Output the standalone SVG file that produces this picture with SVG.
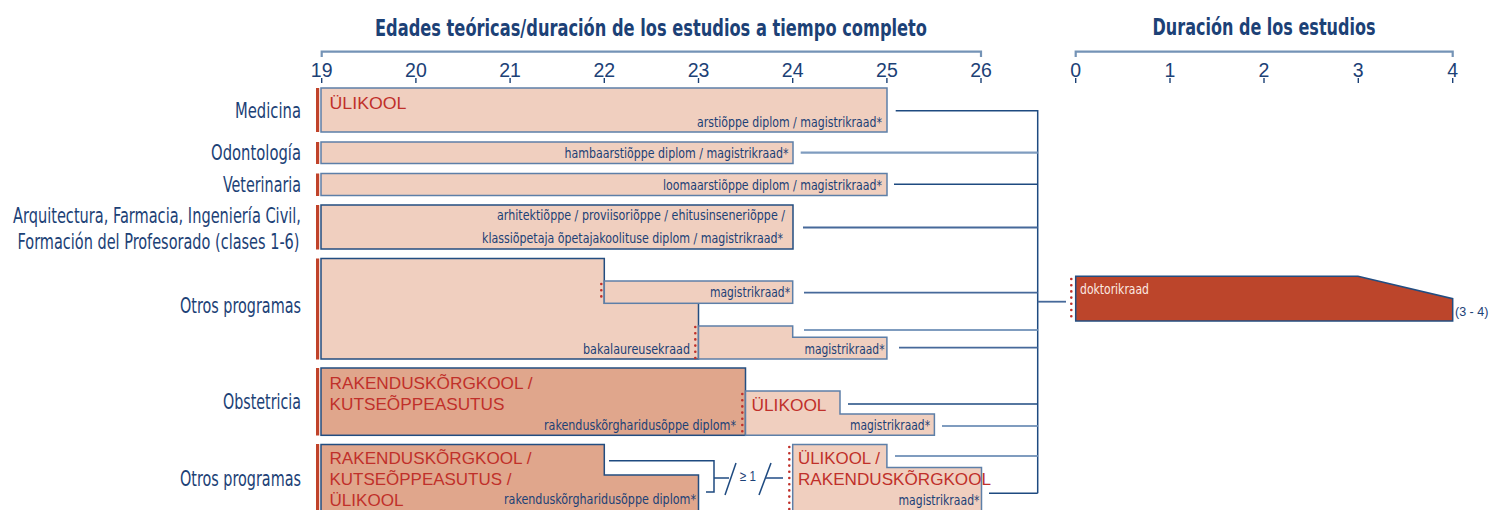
<svg xmlns="http://www.w3.org/2000/svg" width="1490" height="510" viewBox="0 0 1490 510">
<style>
.title{font-family:"Liberation Sans Narrow","DejaVu Sans Condensed","DejaVu Sans",sans-serif;font-stretch:condensed;font-weight:bold;font-size:23px;fill:#1c4176}
.lab{font-family:"Liberation Sans Narrow","DejaVu Sans Condensed","DejaVu Sans",sans-serif;font-stretch:condensed;font-size:21px;fill:#1c4176;text-anchor:end}
.num{font-family:"Liberation Sans",Arial,sans-serif;font-size:19.5px;fill:#1c4176;text-anchor:middle}
.sm{font-family:"Liberation Sans Narrow","DejaVu Sans Condensed","Liberation Sans",sans-serif;font-stretch:condensed;font-size:14.5px;fill:#1c4176;text-anchor:end}
.red{font-family:"Liberation Sans",Arial,sans-serif;font-size:16.5px;fill:#c0302a}
.axis{stroke:#7493b6;stroke-width:2.2;fill:none}
.tick{stroke:#1c4176;stroke-width:1.4}
.bar{fill:#c0432a}
.lt{fill:#f0cfbf;stroke:#5d7fa8;stroke-width:1.5}
.ltd{fill:#f0cfbf;stroke:#234d80;stroke-width:1.5}
.dk{fill:#e0a68c;stroke:#234d80;stroke-width:1.5}
.c1{stroke:#1e4a80;stroke-width:1.5;fill:none}
.c2{stroke:#7f9cbf;stroke-width:2.2;fill:none}
.c3{stroke:#46699a;stroke-width:1.8;fill:none}
.dots{stroke:#c0302a;stroke-width:2.6;stroke-linecap:round;stroke-dasharray:0 6.2;fill:none}
</style>

<g id="titles">
<text class="title" x="651" y="36" text-anchor="middle" textLength="552" lengthAdjust="spacingAndGlyphs">Edades teóricas/duración de los estudios a tiempo completo</text>
<text class="title" x="1264" y="35" text-anchor="middle" textLength="223" lengthAdjust="spacingAndGlyphs">Duración de los estudios</text>
</g>

<g id="axis-ages">
<path class="axis" d="M321.7,57 V51.7 H981 V57"/>
<text class="num" x="321.7" y="77">19</text>
<text class="num" x="415.9" y="77">20</text>
<text class="num" x="510.1" y="77">21</text>
<text class="num" x="604.3" y="77">22</text>
<text class="num" x="698.5" y="77">23</text>
<text class="num" x="792.7" y="77">24</text>
<text class="num" x="886.9" y="77">25</text>
<text class="num" x="981" y="77">26</text>
<path class="tick" d="M321.7,78V83M415.9,78V83M510.1,78V83M604.3,78V83M698.5,78V83M792.7,78V83M886.9,78V83M981,78V83"/>
</g>

<g id="axis-duration">
<path class="axis" d="M1075.7,57 V51.7 H1452.7 V57"/>
<text class="num" x="1075.7" y="77">0</text>
<text class="num" x="1170" y="77">1</text>
<text class="num" x="1264" y="77">2</text>
<text class="num" x="1358.3" y="77">3</text>
<text class="num" x="1452.7" y="77">4</text>
<path class="tick" d="M1075.7,78V83M1170,78V83M1264,78V83M1358.3,78V83M1452.7,78V83"/>
</g>

<g id="connectors">
<path class="c1" d="M895.7,110.7 H1037.7 V493.3"/>
<path class="c2" d="M800.7,152.7 H1037.7"/>
<path class="c1" d="M894,184.3 H1037.7"/>
<path class="c3" d="M803,227.5 H1037.7"/>
<path class="c3" d="M804,292.7 H1037.7"/>
<path class="c2" d="M804,330 H1037.7"/>
<path class="c3" d="M899,347.7 H1037.7"/>
<path class="c1" d="M848,404 H1037.7"/>
<path class="c2" d="M942,426 H1037.7"/>
<path class="c2" d="M895,456 H1037.7"/>
<path class="c1" d="M989,493.3 H1037.7"/>
<path class="c3" d="M1037.7,301.7 H1066"/>
<path class="c1" d="M609,460.7 H714 V492 H706"/>
<path class="c1" d="M714,478 H729"/>
<path class="c1" d="M725,495 L736,463"/>
<path class="c1" d="M759,495 L771,463"/>
<path class="c3" d="M766,478 H783"/>
<text x="740" y="481" font-family="Liberation Sans,Arial,sans-serif" font-size="14.5" fill="#1c4176" textLength="16" lengthAdjust="spacingAndGlyphs">≥ 1</text>
</g>

<g id="medicina">
<rect class="bar" x="316" y="88" width="3.2" height="44"/>
<rect class="lt" x="321" y="88" width="566" height="44"/>
<text class="lab" x="301" y="118" textLength="66" lengthAdjust="spacingAndGlyphs">Medicina</text>
<text class="red" x="329.5" y="109" textLength="77" lengthAdjust="spacingAndGlyphs">ÜLIKOOL</text>
<text class="sm" x="882" y="127" textLength="185" lengthAdjust="spacingAndGlyphs">arstiõppe diplom / magistrikraad*</text>
</g>

<g id="odontologia">
<rect class="bar" x="316" y="142" width="3.2" height="22"/>
<rect class="lt" x="321" y="142" width="472" height="21.5"/>
<text class="lab" x="301" y="160" textLength="90" lengthAdjust="spacingAndGlyphs">Odontología</text>
<text class="sm" x="788.5" y="158" textLength="224" lengthAdjust="spacingAndGlyphs">hambaarstiõppe diplom / magistrikraad*</text>
</g>

<g id="veterinaria">
<rect class="bar" x="316" y="173.5" width="3.2" height="22.5"/>
<rect class="lt" x="321" y="173.5" width="566" height="22"/>
<text class="lab" x="301" y="191.5" textLength="78" lengthAdjust="spacingAndGlyphs">Veterinaria</text>
<text class="sm" x="882" y="190" textLength="219" lengthAdjust="spacingAndGlyphs">loomaarstiõppe diplom / magistrikraad*</text>
</g>

<g id="arquitectura">
<rect class="bar" x="316" y="205" width="3.2" height="44.5"/>
<rect class="ltd" x="321" y="205" width="472" height="44"/>
<text class="lab" x="301" y="223" textLength="288" lengthAdjust="spacingAndGlyphs">Arquitectura, Farmacia, Ingeniería Civil,</text>
<text class="lab" x="299.5" y="249" textLength="282" lengthAdjust="spacingAndGlyphs">Formación del Profesorado (clases 1-6)</text>
<text class="sm" x="785" y="220" textLength="288" lengthAdjust="spacingAndGlyphs">arhitektiõppe / proviisoriõppe / ehitusinseneriõppe /</text>
<text class="sm" x="783" y="243" textLength="301" lengthAdjust="spacingAndGlyphs">klassiõpetaja õpetajakoolituse diplom / magistrikraad*</text>
</g>

<g id="otros-programas-1">
<rect class="bar" x="316" y="258.5" width="3.2" height="101"/>
<path class="ltd" d="M321,258.5 H604.3 V303.3 H698.5 V359 H321 Z"/>
<rect class="lt" x="604.3" y="281" width="188.4" height="22.3"/>
<path class="lt" d="M698.5,326 H792.7 V337.3 H886.9 V359 H698.5 Z"/>
<path class="dots" d="M601.3,284 V302"/>
<path class="dots" d="M695.3,327 V358"/>
<text class="lab" x="301" y="313" textLength="121" lengthAdjust="spacingAndGlyphs">Otros programas</text>
<text class="sm" x="790" y="297" textLength="80" lengthAdjust="spacingAndGlyphs">magistrikraad*</text>
<text class="sm" x="690" y="354" textLength="107" lengthAdjust="spacingAndGlyphs">bakalaureusekraad</text>
<text class="sm" x="884.5" y="354" textLength="80" lengthAdjust="spacingAndGlyphs">magistrikraad*</text>
</g>

<g id="obstetricia">
<rect class="bar" x="316" y="368" width="3.2" height="67.5"/>
<rect class="dk" x="321" y="368" width="424.5" height="67.3"/>
<path class="lt" d="M745.5,391 H840 V414 H934.4 V435.3 H745.5 Z"/>
<path class="dots" d="M742.3,394 V433"/>
<text class="lab" x="301" y="409" textLength="78" lengthAdjust="spacingAndGlyphs">Obstetricia</text>
<text class="red" x="329.5" y="388.5" textLength="203" lengthAdjust="spacingAndGlyphs">RAKENDUSKÕRGKOOL /</text>
<text class="red" x="329.5" y="409.5" textLength="175" lengthAdjust="spacingAndGlyphs">KUTSEÕPPEASUTUS</text>
<text class="sm" x="736" y="429.5" textLength="192" lengthAdjust="spacingAndGlyphs">rakenduskõrgharidusõppe diplom*</text>
<text class="red" x="751.5" y="410.5" textLength="75" lengthAdjust="spacingAndGlyphs">ÜLIKOOL</text>
<text class="sm" x="930" y="429.5" textLength="80" lengthAdjust="spacingAndGlyphs">magistrikraad*</text>
</g>

<g id="otros-programas-2">
<rect class="bar" x="316" y="444" width="3.2" height="70"/>
<path class="dk" d="M321,444.5 H604.3 V475 H698.5 V515 H321 Z"/>
<path class="lt" d="M792.7,444.5 H886.9 V467.5 H981.5 V515 H792.7 Z"/>
<path class="dots" d="M789.3,447 V510"/>
<text class="lab" x="301" y="486" textLength="121" lengthAdjust="spacingAndGlyphs">Otros programas</text>
<text class="red" x="329.5" y="463.5" textLength="202" lengthAdjust="spacingAndGlyphs">RAKENDUSKÕRGKOOL /</text>
<text class="red" x="329.5" y="484.5" textLength="182" lengthAdjust="spacingAndGlyphs">KUTSEÕPPEASUTUS /</text>
<text class="red" x="329.5" y="505.5" textLength="74" lengthAdjust="spacingAndGlyphs">ÜLIKOOL</text>
<text class="sm" x="696" y="504" textLength="192" lengthAdjust="spacingAndGlyphs">rakenduskõrgharidusõppe diplom*</text>
<text class="red" x="798" y="463.5" textLength="82" lengthAdjust="spacingAndGlyphs">ÜLIKOOL /</text>
<text class="red" x="798" y="485" textLength="193" lengthAdjust="spacingAndGlyphs">RAKENDUSKÕRGKOOL</text>
<text class="sm" x="979.5" y="505" textLength="81" lengthAdjust="spacingAndGlyphs">magistrikraad*</text>
</g>

<g id="doktorikraad">
<path d="M1075.7,276.3 H1358 L1452.7,298.7 V321 H1075.7 Z" fill="#bc452b" stroke="#234d80" stroke-width="1.5"/>
<path class="dots" d="M1071.3,279 V320"/>
<text x="1080" y="293.5" font-family="Liberation Sans Narrow,DejaVu Sans Condensed,Liberation Sans,sans-serif" font-stretch="condensed" font-size="14.5" fill="#fbe9e2" textLength="69" lengthAdjust="spacingAndGlyphs">doktorikraad</text>
<text x="1455" y="316" font-family="Liberation Sans,Arial,sans-serif" font-size="12.5" fill="#1c4176">(3 - 4)</text>
</g>
</svg>
